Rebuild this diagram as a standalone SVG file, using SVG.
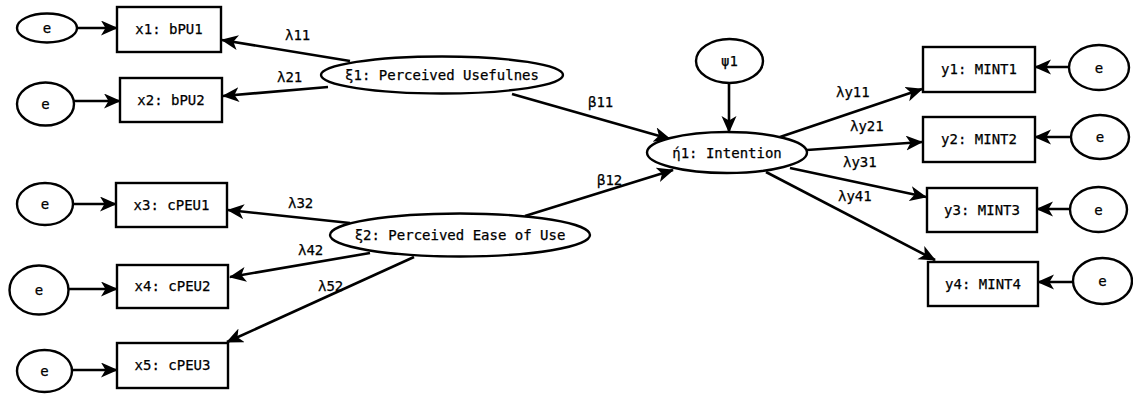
<svg xmlns="http://www.w3.org/2000/svg" width="1133" height="394" viewBox="0 0 1133 394">
  <style>
    .shape { fill: #ffffff; stroke: #000000; stroke-width: 2.4; }
    .link { stroke: #000000; stroke-width: 2.6; fill: none; marker-end: url(#head); }
    text { font-family: "DejaVu Sans Mono", "Liberation Mono", monospace; font-size: 14px; fill: #000000; stroke: #000000; stroke-width: 0.25; }
    .mid { text-anchor: middle; }
  </style>
  <defs>
    <!-- notched filled arrowhead -->
    <marker id="head" markerUnits="userSpaceOnUse" markerWidth="18" markerHeight="16" refX="16" refY="7.5" orient="auto">
      <path d="M0,0 L17,7.5 L0,15 L4.5,7.5 z" fill="#000000"/>
    </marker>
  </defs>

  <rect width="1133" height="394" fill="#ffffff"/>

  <!-- paths and loadings -->
  <g id="connectors">
    <line class="link" x1="77" y1="28" x2="117" y2="28"/>
    <line class="link" x1="74" y1="101" x2="120" y2="101"/>
    <line class="link" x1="73" y1="204" x2="116" y2="204"/>
    <line class="link" x1="68" y1="289" x2="117" y2="289"/>
    <line class="link" x1="72" y1="370" x2="117" y2="370"/>

    <line class="link" x1="1069" y1="67" x2="1035" y2="67"/>
    <line class="link" x1="1071" y1="137" x2="1035" y2="137"/>
    <line class="link" x1="1070" y1="209" x2="1037" y2="209"/>
    <line class="link" x1="1073" y1="282" x2="1038" y2="282"/>

    <line class="link" x1="350" y1="61" x2="222" y2="40"/>
    <line class="link" x1="328" y1="87" x2="223" y2="96"/>
    <line class="link" x1="512" y1="94" x2="670" y2="139"/>
    <line class="link" x1="525" y1="216" x2="673" y2="170"/>
    <line class="link" x1="350" y1="223" x2="228" y2="210"/>
    <line class="link" x1="370" y1="253" x2="230" y2="277"/>
    <line class="link" x1="414" y1="257" x2="227" y2="342"/>
    <line class="link" x1="729" y1="83" x2="729" y2="132"/>
    <line class="link" x1="780" y1="137" x2="922" y2="89"/>
    <line class="link" x1="807" y1="150" x2="922" y2="142"/>
    <line class="link" x1="790" y1="168" x2="926" y2="197"/>
    <line class="link" x1="766" y1="172" x2="935" y2="260"/>

    <text x="285" y="40">λ11</text>
    <text x="277" y="82">λ21</text>
    <text x="588" y="107">β11</text>
    <text x="597" y="185">β12</text>
    <text x="288" y="208">λ32</text>
    <text x="298" y="255">λ42</text>
    <text x="318" y="291">λ52</text>
    <text x="836" y="97">λy11</text>
    <text x="850" y="131">λy21</text>
    <text x="843" y="167">λy31</text>
    <text x="838" y="201">λy41</text>
  </g>

  <!-- exogenous indicators and their errors -->
  <g id="e-x1"><ellipse class="shape" cx="47" cy="28" rx="30" ry="14.5"/><text class="mid" x="47" y="33">e</text></g>
  <g id="e-x2"><ellipse class="shape" cx="45.5" cy="104" rx="28.5" ry="21.5"/><text class="mid" x="45.5" y="109">e</text></g>
  <g id="e-x3"><ellipse class="shape" cx="45" cy="204" rx="28" ry="21"/><text class="mid" x="45" y="209">e</text></g>
  <g id="e-x4"><ellipse class="shape" cx="39" cy="290" rx="29.5" ry="24.5"/><text class="mid" x="39" y="295">e</text></g>
  <g id="e-x5"><ellipse class="shape" cx="44.5" cy="371" rx="27.5" ry="21"/><text class="mid" x="44.5" y="376">e</text></g>

  <g id="x1"><rect class="shape" x="117" y="7" width="104" height="45"/><text class="mid" x="169" y="34">x1: bPU1</text></g>
  <g id="x2"><rect class="shape" x="120" y="78" width="102" height="44"/><text class="mid" x="171" y="105">x2: bPU2</text></g>
  <g id="x3"><rect class="shape" x="116" y="183" width="111" height="44"/><text class="mid" x="171.5" y="210">x3: cPEU1</text></g>
  <g id="x4"><rect class="shape" x="117" y="265" width="111" height="43"/><text class="mid" x="172.5" y="291">x4: cPEU2</text></g>
  <g id="x5"><rect class="shape" x="117" y="343" width="111" height="45"/><text class="mid" x="172.5" y="370">x5: cPEU3</text></g>

  <!-- latent variables -->
  <g id="ksi1"><ellipse class="shape" cx="442" cy="75" rx="121" ry="18.5"/><text class="mid" x="442" y="80">ξ1: Perceived Usefulnes</text></g>
  <g id="ksi2"><ellipse class="shape" cx="460" cy="235" rx="130" ry="21.5"/><text class="mid" x="460" y="240">ξ2: Perceived Ease of Use</text></g>
  <g id="eta1"><ellipse class="shape" cx="727" cy="152.5" rx="80" ry="20.5"/><text class="mid" x="727" y="157.5">ή1: Intention</text></g>
  <g id="psi1"><ellipse class="shape" cx="729.5" cy="61" rx="33.5" ry="22"/><text class="mid" x="729.5" y="66">ψ1</text></g>

  <!-- endogenous indicators and their errors -->
  <g id="y1"><rect class="shape" x="923" y="47" width="112" height="45"/><text class="mid" x="979" y="74">y1: MINT1</text></g>
  <g id="y2"><rect class="shape" x="923" y="117" width="112" height="45"/><text class="mid" x="979" y="144">y2: MINT2</text></g>
  <g id="y3"><rect class="shape" x="927" y="188" width="110" height="44"/><text class="mid" x="982" y="215">y3: MINT3</text></g>
  <g id="y4"><rect class="shape" x="928" y="262" width="110" height="44"/><text class="mid" x="983" y="289">y4: MINT4</text></g>

  <g id="e-y1"><ellipse class="shape" cx="1099" cy="67.5" rx="30" ry="22.5"/><text class="mid" x="1099" y="72.5">e</text></g>
  <g id="e-y2"><ellipse class="shape" cx="1100" cy="137" rx="29" ry="22"/><text class="mid" x="1100" y="142">e</text></g>
  <g id="e-y3"><ellipse class="shape" cx="1098.5" cy="209.5" rx="28.5" ry="22.5"/><text class="mid" x="1098.5" y="214.5">e</text></g>
  <g id="e-y4"><ellipse class="shape" cx="1102.5" cy="281" rx="29.5" ry="23"/><text class="mid" x="1102.5" y="286">e</text></g>
</svg>
